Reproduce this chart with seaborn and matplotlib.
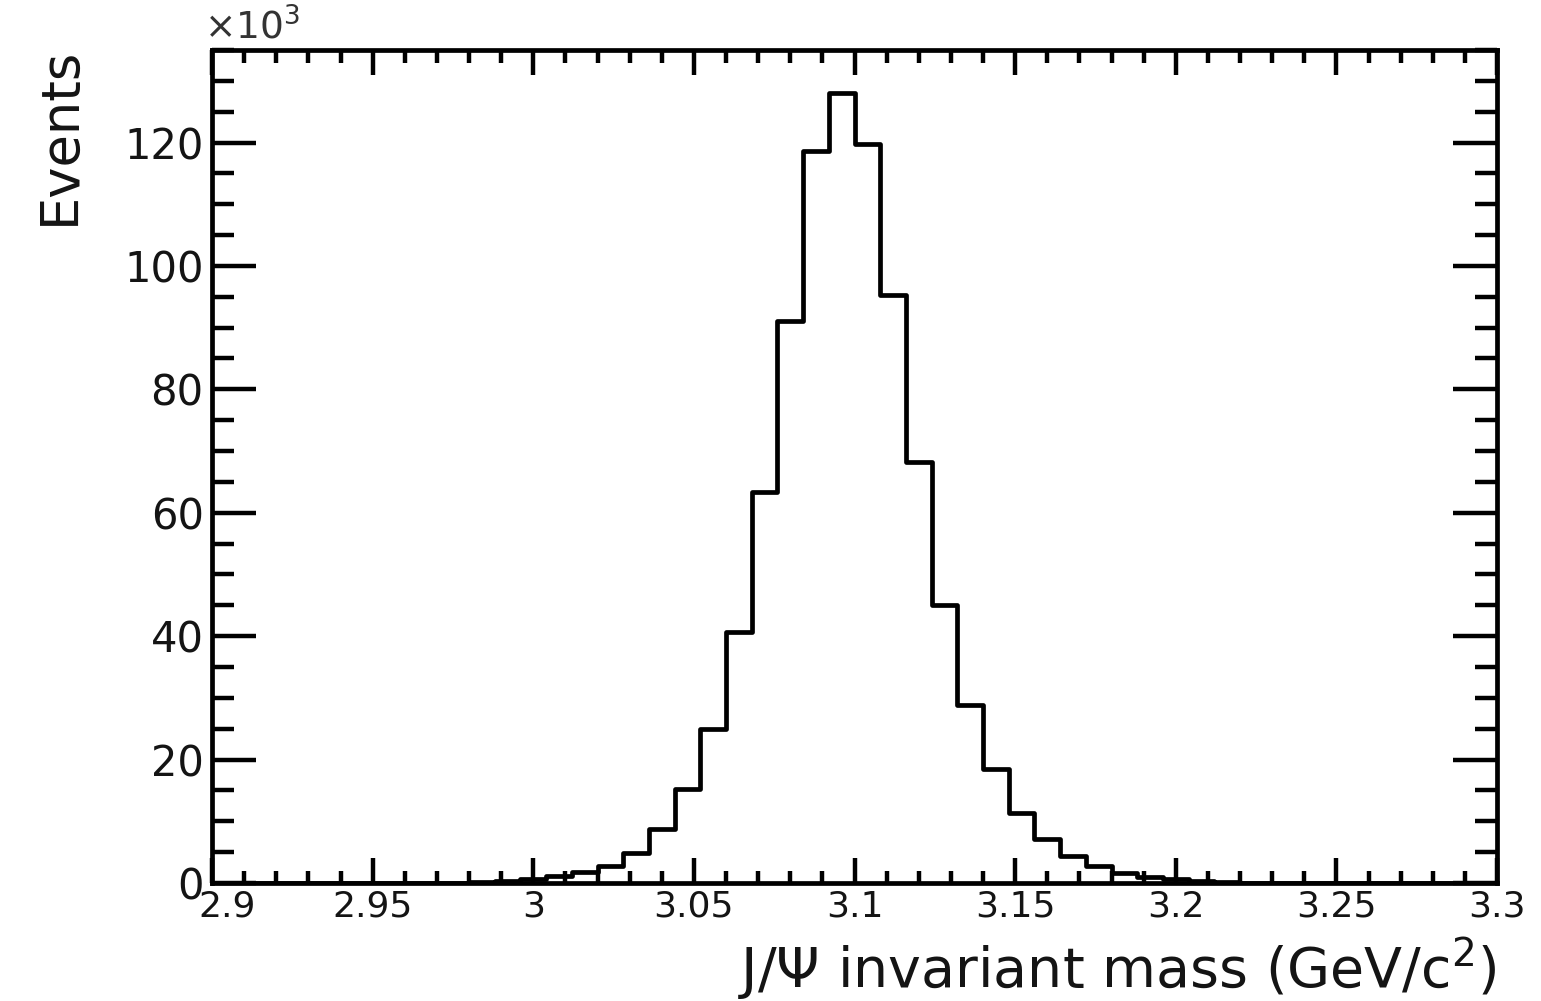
import numpy as np
import pandas as pd
import matplotlib
matplotlib.use("Agg")
import matplotlib.pyplot as plt
import matplotlib.transforms as mtransforms
from matplotlib.ticker import MultipleLocator, FuncFormatter
import seaborn as sns

# Histogram binning: 50 bins of 8 MeV between 2.9 and 3.3 GeV/c^2
x_min, x_max, n_bins = 2.9, 3.3, 50
bin_edges = np.linspace(x_min, x_max, n_bins + 1)
bin_centers = 0.5 * (bin_edges[:-1] + bin_edges[1:])

# Events per bin, in units of 10^3
counts_k = [
    0, 0, 0, 0, 0, 0, 0, 0, 0, 0,
    0.1, 0.25, 0.6, 1.1, 1.7, 2.75, 4.9, 8.7, 15.2, 24.9,
    40.7, 63.4, 91.0, 118.6, 128.1, 119.8, 95.3, 68.2, 45.0, 28.8,
    18.4, 11.4, 7.1, 4.4, 2.75, 1.67, 1.0, 0.6, 0.25, 0.1,
    0, 0, 0, 0, 0, 0, 0, 0, 0, 0,
]

x_ticks = [2.9, 2.95, 3.0, 3.05, 3.1, 3.15, 3.2, 3.25, 3.3]
y_ticks = [0, 20, 40, 60, 80, 100, 120]

x_label = "J/\u03a8 invariant mass (GeV/c$^{2}$)"
y_label = "Events"
y_scale_label = r"$\times10^{3}$"

df = pd.DataFrame({"mass": bin_centers, "events": counts_k})

sns.set_theme(style="ticks")
plt.rcParams["font.family"] = ["DejaVu Sans"]
plt.rcParams["mathtext.fontset"] = "dejavusans"

fig = plt.figure(figsize=(15.41, 10.01), dpi=100)
ax = fig.add_axes([0.1376, 0.1179, 0.8339, 0.8322])

sns.histplot(
    data=df, x="mass", weights="events", bins=n_bins, binrange=(x_min, x_max),
    element="step", fill=False, color="black", linewidth=3.4, ax=ax,
)

ax.set_xlim(x_min, x_max)
ax.set_ylim(0, 135)

ax.set_xticks(x_ticks)
ax.set_yticks(y_ticks)
ax.xaxis.set_minor_locator(MultipleLocator(0.01))
ax.yaxis.set_minor_locator(MultipleLocator(5))
ax.xaxis.set_major_formatter(FuncFormatter(lambda v, p: f"{v:g}"))

for side in ["left", "right", "top", "bottom"]:
    ax.spines[side].set_visible(True)
    ax.spines[side].set_linewidth(3.4)
    ax.spines[side].set_color("black")

label_color = "#141414"
ax.tick_params(axis="both", which="both", direction="in",
               top=True, right=True, width=3.2, color="black",
               labelcolor=label_color)
ax.tick_params(axis="x", which="major", length=18, pad=5, labelsize=26)
ax.tick_params(axis="x", which="minor", length=9)
ax.tick_params(axis="y", which="major", length=32, pad=6, labelsize=30)
ax.tick_params(axis="y", which="minor", length=16)

# Nudge the first x label right so it clears the "0" of the y axis
first_label = ax.get_xticklabels()[0]
first_label.set_transform(
    first_label.get_transform()
    + mtransforms.ScaledTranslation(0.15, 0, fig.dpi_scale_trans)
)

# Axis titles sit at the far ends of the axes
ax.set_xlabel(x_label, loc="right", fontsize=40, color=label_color)
ax.xaxis.set_label_coords(1.0, -0.1261)
ax.xaxis.label.set_va("baseline")

ax.set_ylabel(y_label, loc="top", fontsize=38, color=label_color)
ax.yaxis.set_label_coords(-0.098, 1.004)
ax.yaxis.label.set_va("bottom")

ax.text(-0.006, 1.004, y_scale_label, transform=ax.transAxes,
        ha="left", va="bottom", fontsize=27, color="#333333")

fig.savefig("out.png", dpi=100)
